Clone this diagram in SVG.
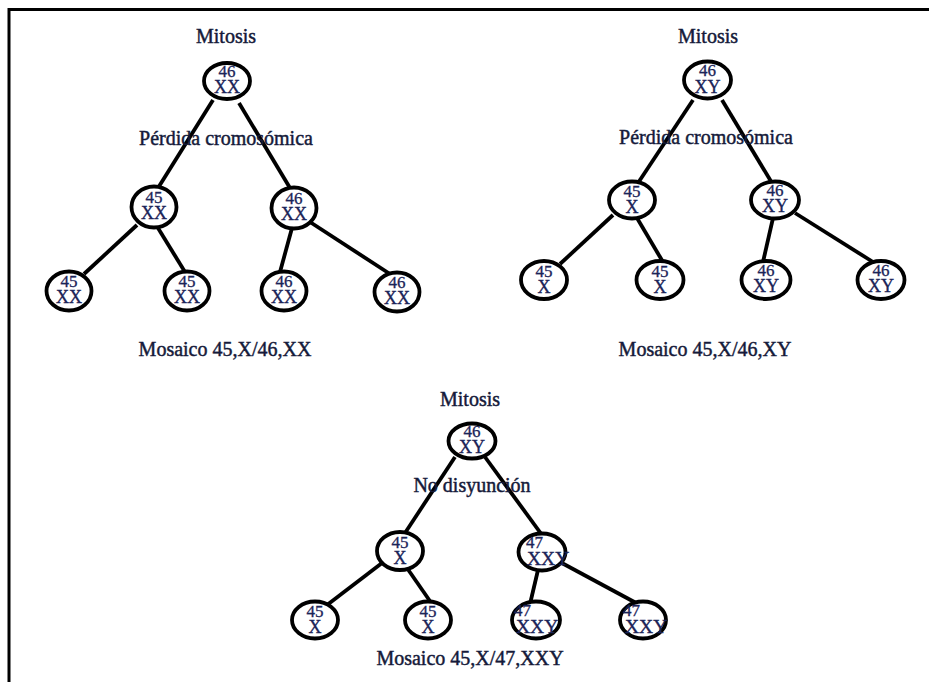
<svg xmlns="http://www.w3.org/2000/svg" width="929" height="682" viewBox="0 0 929 682">
  <style>
    .frame { stroke: #000; stroke-width: 3; fill: none; }
    .edge { stroke: #000; stroke-width: 3.8; stroke-linecap: butt; fill: none; }
    .cell { fill: #fff; stroke: #000; stroke-width: 3.8; }
    .lbl { font-family: "Liberation Serif", "Times New Roman", serif; font-size: 20px; fill: #151a3a; stroke: #151a3a; stroke-width: 0.45; text-anchor: middle; }
    .num { font-family: "Liberation Serif", "Times New Roman", serif; font-size: 17px; fill: #1b2458; stroke: #1b2458; stroke-width: 0.3; text-anchor: middle; }
    .kar { font-family: "Liberation Serif", "Times New Roman", serif; font-size: 18px; fill: #1b2458; stroke: #1b2458; stroke-width: 0.35; text-anchor: middle; }
    .big { font-size: 19.5px; }
    .lft { text-anchor: start; }
  </style>

  <rect width="929" height="682" fill="#fff"/>
  <!-- page frame: top and left rules only -->
  <path class="frame" d="M9 682 V9.5 H929"/>

  <!-- connectors -->
  <g id="connectors">
    <!-- panel 1 -->
    <line class="edge" x1="213" y1="100" x2="158" y2="188"/>
    <line class="edge" x1="239" y1="103" x2="290" y2="188"/>
    <line class="edge" x1="137" y1="225" x2="84" y2="274"/>
    <line class="edge" x1="158" y1="228" x2="185" y2="272"/>
    <line class="edge" x1="292" y1="228" x2="280" y2="272"/>
    <line class="edge" x1="310" y1="222" x2="390" y2="274"/>
    <!-- panel 2 -->
    <line class="edge" x1="693" y1="100" x2="638" y2="183"/>
    <line class="edge" x1="722" y1="100" x2="772" y2="183"/>
    <line class="edge" x1="613" y1="215" x2="560" y2="264"/>
    <line class="edge" x1="637" y1="218" x2="663" y2="262"/>
    <line class="edge" x1="773" y1="218" x2="763" y2="262"/>
    <line class="edge" x1="795" y1="213" x2="873" y2="262"/>
    <!-- panel 3 -->
    <line class="edge" x1="455" y1="457" x2="405" y2="533"/>
    <line class="edge" x1="485" y1="457" x2="542" y2="535"/>
    <line class="edge" x1="382" y1="563" x2="327" y2="605"/>
    <line class="edge" x1="407" y1="568" x2="432" y2="604"/>
    <line class="edge" x1="538" y1="570" x2="530" y2="604"/>
    <line class="edge" x1="560" y1="562" x2="638" y2="604"/>
  </g>

  <!-- panel 1: Mosaico 45,X/46,XX -->
  <text class="lbl" x="226" y="43">Mitosis</text>
  <g id="p1-root"><ellipse class="cell" cx="227" cy="81" rx="23" ry="18"/><text class="num" x="227" y="77">46</text><text class="kar" x="227" y="93">XX</text></g>
  <text class="lbl" x="226" y="145">Pérdida cromosómica</text>
  <g id="p1-a"><ellipse class="cell" cx="154" cy="207" rx="22.5" ry="20.5"/><text class="num" x="154" y="203">45</text><text class="kar" x="154" y="219">XX</text></g>
  <g id="p1-b"><ellipse class="cell" cx="294" cy="208" rx="22.5" ry="20.5"/><text class="num" x="294" y="204">46</text><text class="kar" x="294" y="220">XX</text></g>
  <g id="p1-a1"><ellipse class="cell" cx="69" cy="291" rx="22.5" ry="19.5"/><text class="num" x="69" y="287">45</text><text class="kar" x="69" y="303">XX</text></g>
  <g id="p1-a2"><ellipse class="cell" cx="187" cy="291" rx="22.5" ry="19.5"/><text class="num" x="187" y="287">45</text><text class="kar" x="187" y="303">XX</text></g>
  <g id="p1-b1"><ellipse class="cell" cx="284" cy="291" rx="22.5" ry="19.5"/><text class="num" x="284" y="287">46</text><text class="kar" x="284" y="303">XX</text></g>
  <g id="p1-b2"><ellipse class="cell" cx="397" cy="292" rx="22.5" ry="19.5"/><text class="num" x="397" y="288">46</text><text class="kar" x="397" y="304">XX</text></g>
  <text class="lbl" x="225" y="356">Mosaico 45,X/46,XX</text>

  <!-- panel 2: Mosaico 45,X/46,XY -->
  <text class="lbl" x="708" y="43">Mitosis</text>
  <g id="p2-root"><ellipse class="cell" cx="707.5" cy="80" rx="23.5" ry="18.5"/><text class="num" x="707.5" y="76">46</text><text class="kar" x="707.5" y="93">XY</text></g>
  <text class="lbl" x="706" y="144">Pérdida cromosómica</text>
  <g id="p2-a"><ellipse class="cell" cx="632" cy="200" rx="23" ry="18.5"/><text class="num" x="632" y="197">45</text><text class="kar" x="632" y="213">X</text></g>
  <g id="p2-b"><ellipse class="cell" cx="775" cy="200" rx="24" ry="18.5"/><text class="num" x="775" y="196">46</text><text class="kar" x="775" y="212">XY</text></g>
  <g id="p2-a1"><ellipse class="cell" cx="544" cy="280" rx="23" ry="19"/><text class="num" x="544" y="277">45</text><text class="kar" x="544" y="293">X</text></g>
  <g id="p2-a2"><ellipse class="cell" cx="660" cy="280" rx="23.5" ry="19"/><text class="num" x="660" y="277">45</text><text class="kar" x="660" y="293">X</text></g>
  <g id="p2-b1"><ellipse class="cell" cx="766" cy="280" rx="24.5" ry="19"/><text class="num" x="766" y="276">46</text><text class="kar" x="766" y="292">XY</text></g>
  <g id="p2-b2"><ellipse class="cell" cx="881" cy="280" rx="23.5" ry="19"/><text class="num" x="881" y="276">46</text><text class="kar" x="881" y="292">XY</text></g>
  <text class="lbl" x="705" y="356">Mosaico 45,X/46,XY</text>

  <!-- panel 3: Mosaico 45,X/47,XXY -->
  <text class="lbl" x="470" y="406">Mitosis</text>
  <g id="p3-root"><ellipse class="cell" cx="472" cy="441" rx="23.5" ry="17.5"/><text class="num" x="472" y="437">46</text><text class="kar" x="472" y="453">XY</text></g>
  <text class="lbl" x="472" y="492">No disyunción</text>
  <g id="p3-a"><ellipse class="cell" cx="400" cy="551" rx="23" ry="19"/><text class="num" x="400" y="548">45</text><text class="kar" x="400" y="564">X</text></g>
  <g id="p3-b"><ellipse class="cell" cx="542" cy="552" rx="23.5" ry="18.5"/><text class="num lft" x="526" y="548">47</text><text class="kar big lft" x="527" y="565">XXY</text></g>
  <g id="p3-a1"><ellipse class="cell" cx="315" cy="620" rx="23" ry="18.5"/><text class="num" x="315" y="617">45</text><text class="kar" x="315" y="633">X</text></g>
  <g id="p3-a2"><ellipse class="cell" cx="428" cy="620" rx="23" ry="18.5"/><text class="num" x="428" y="617">45</text><text class="kar" x="428" y="633">X</text></g>
  <g id="p3-b1"><ellipse class="cell" cx="536" cy="620" rx="24" ry="18.5"/><text class="num lft" x="514" y="616">47</text><text class="kar big lft" x="516" y="633">XXY</text></g>
  <g id="p3-b2"><ellipse class="cell" cx="643" cy="620" rx="23" ry="18.5"/><text class="num lft" x="623" y="616">47</text><text class="kar big lft" x="625" y="633">XXY</text></g>
  <text class="lbl" x="470" y="665">Mosaico 45,X/47,XXY</text>
</svg>
